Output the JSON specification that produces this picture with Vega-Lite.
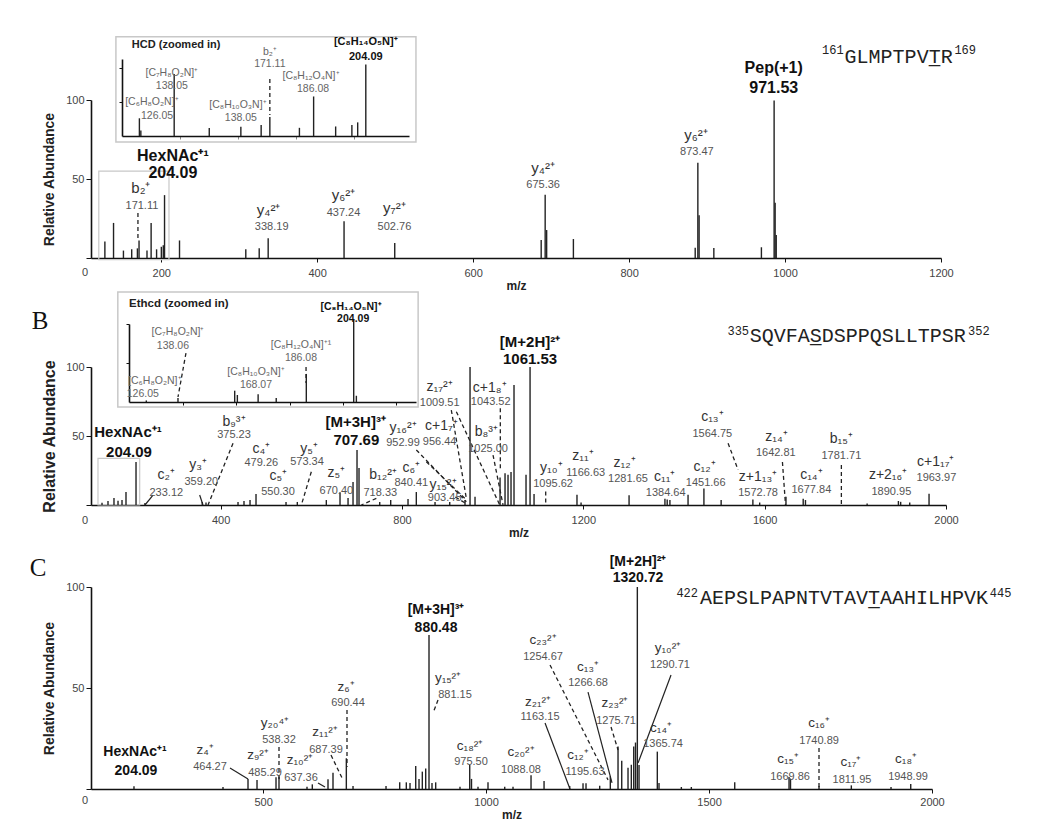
{
"$schema": "https://vega.github.io/schema/vega-lite/v6.json",
"background": "white",
"padding": {"left": 29, "top": 36, "right": 5, "bottom": 5},
"config": {
  "view": {"stroke": null},
  "font": "Liberation Sans",
  "axis": {"grid": false, "domainColor": "#111", "domainWidth": 1.6, "tickColor": "#111", "tickWidth": 1, "labelColor": "#444", "labelFont": "Liberation Sans", "labelFontSize": 11, "titleFont": "Liberation Sans", "titleColor": "#222", "titleFontWeight": "bold", "labelFlush": false, "format": "d"},
  "text": {"font": "Liberation Sans", "baseline": "middle"}
},
"datasets": {
  "aPeaks": [{"mz":127.8,"h":10.5},{"mz":138.9,"h":22.2},{"mz":151.6,"h":4.7},{"mz":162.2,"h":5.5},{"mz":169.5,"h":6.1},{"mz":171.6,"h":11.1},{"mz":181.8,"h":4.7},{"mz":187.1,"h":22.2},{"mz":194.1,"h":5.5},{"mz":200.2,"h":7.1},{"mz":202.7,"h":8.1},{"mz":204.3,"h":39.8},{"mz":223.5,"h":11.1},{"mz":308.5,"h":5.5},{"mz":325.7,"h":6.1},{"mz":337.2,"h":12.5},{"mz":434.5,"h":23.3},{"mz":499.5,"h":9.5},{"mz":687.3,"h":11.4},{"mz":692.4,"h":40},{"mz":694.3,"h":17.7},{"mz":728.6,"h":12},{"mz":884.8,"h":6.5},{"mz":888.2,"h":60.3},{"mz":889.8,"h":27},{"mz":908.7,"h":6.3},{"mz":969.7,"h":6.8},{"mz":986,"h":99.7},{"mz":987.3,"h":35},{"mz":988.7,"h":14.6}],
  "aText": [
    {"k":"ion","t":"b₂⁺","mz":174,"h":44.3},{"k":"ion","t":"y₄²⁺","mz":337.8,"h":30.4},{"k":"ion","t":"y₆²⁺","mz":433.8,"h":39.9},{"k":"ion","t":"y₇²⁺","mz":499.1,"h":31.6},{"k":"ion","t":"y₄²⁺","mz":689.8,"h":57},{"k":"ion","t":"y₆²⁺","mz":885.7,"h":77.8},
    {"k":"num","t":"171.11","mz":175.3,"h":32.9},{"k":"num","t":"338.19","mz":341.7,"h":19.6},{"k":"num","t":"437.24","mz":433.8,"h":28.5},{"k":"num","t":"502.76","mz":499.1,"h":19.6},{"k":"num","t":"675.36","mz":689.8,"h":46.2},{"k":"num","t":"873.47","mz":887,"h":67.1},
    {"k":"big","t":"HexNAc⁺¹","mz":215,"h":64.6},{"k":"big","t":"204.09","mz":215,"h":53.8},{"k":"big","t":"Pep(+1)","mz":985.5,"h":120.3},{"k":"big","t":"971.53","mz":985.5,"h":107.6},
    {"k":"supL","t":"161","mz":1075.1,"h":131.6},{"k":"seq","t":"GLMPTPVT̲R","mz":1076.4,"h":127.2},{"k":"supR","t":"169","mz":1217.2,"h":131.6},
    {"k":"zero","t":"0","mz":102.3,"h":-9.5}
  ],
  "aLines": [{"k":"dash","mz":170.2,"h":28.5,"mz2":170.2,"h2":11.4}],
  "aBox": [{"mz":120,"mz2":210,"h":-1,"h2":55}],
  "aiPeaks": [{"mz":126.0,"h":26},{"mz":126.5,"h":8},{"mz":138.0,"h":91},{"mz":150.1,"h":11.8},{"mz":161.0,"h":13.7},{"mz":168.0,"h":16},{"mz":171.0,"h":28},{"mz":181.2,"h":12},{"mz":186.1,"h":58},{"mz":193.7,"h":14},{"mz":199.3,"h":16},{"mz":201.3,"h":20},{"mz":204.1,"h":105}],
  "aiText": [
    {"k":"title","t":"HCD (zoomed in)","mz":123.4,"h":133.8},
    {"k":"ibig","t":"[C₈H₁₄O₅N]⁺","mz":204.1,"h":137.5},{"k":"ibig","t":"204.09","mz":204.1,"h":116.2},
    {"k":"ilab","t":"b₂⁺","mz":171,"h":123.5},{"k":"ilab","t":"171.11","mz":171,"h":105.9},
    {"k":"ilab","t":"[C₇H₈O₂N]⁺","mz":137.2,"h":92.6},{"k":"ilab","t":"138.05","mz":137.2,"h":73.5},
    {"k":"ilab","t":"[C₈H₁₂O₄N]⁺","mz":185.2,"h":88.2},{"k":"ilab","t":"186.08","mz":185.9,"h":69.1},
    {"k":"ilab","t":"[C₆H₈O₂N]⁺","mz":130.3,"h":50},{"k":"ilab","t":"126.05","mz":132.1,"h":29.4},
    {"k":"ilab","t":"[C₈H₁₀O₃N]⁺","mz":160,"h":45.6},{"k":"ilab","t":"138.05","mz":161,"h":26.5}
  ],
  "aiLines": [{"k":"dash","mz":171,"h":83.8,"mz2":171,"h2":30.9}],
  "aiBox": [{"mz":117.9,"mz2":221.4,"h":-8.8,"h2":145.6}],
  "bPeaks": [{"mz":138.3,"h":1.7},{"mz":151.5,"h":2.9},{"mz":164.7,"h":5},{"mz":173.6,"h":3},{"mz":182.4,"h":3.6},{"mz":191.2,"h":9.4},{"mz":213.3,"h":31.2},{"mz":233,"h":1.5},{"mz":359.5,"h":2.2},{"mz":367.7,"h":1.8},{"mz":438.3,"h":2.2},{"mz":451.5,"h":2.9},{"mz":464.8,"h":3.6},{"mz":478,"h":8},{"mz":544.2,"h":2.2},{"mz":569.1,"h":2.2},{"mz":633.1,"h":3.6},{"mz":663.3,"h":9.2},{"mz":681,"h":5},{"mz":692,"h":16.7},{"mz":700.8,"h":39.9},{"mz":705.2,"h":26.8},{"mz":750.9,"h":2.2},{"mz":775.1,"h":3.6},{"mz":813.3,"h":4.3},{"mz":831.6,"h":9.4},{"mz":872.9,"h":2.2},{"mz":905.3,"h":2.2},{"mz":939,"h":3.6},{"mz":950.1,"h":100},{"mz":961.1,"h":6},{"mz":1016.3,"h":20},{"mz":1027.3,"h":23},{"mz":1033.9,"h":22},{"mz":1040.5,"h":24},{"mz":1047.1,"h":87},{"mz":1073.6,"h":22},{"mz":1082.5,"h":100},{"mz":1091.3,"h":8},{"mz":1186,"h":7.4},{"mz":1195,"h":1.8},{"mz":1300.9,"h":7},{"mz":1380,"h":4.5},{"mz":1385,"h":4},{"mz":1391,"h":3.6},{"mz":1431,"h":7.4},{"mz":1466,"h":12},{"mz":1504,"h":3.6},{"mz":1574,"h":4},{"mz":1589,"h":1.8},{"mz":1647,"h":5.9},{"mz":1685,"h":4.5},{"mz":1690,"h":3.6},{"mz":1826,"h":1.1},{"mz":1895,"h":2.9},{"mz":1900,"h":2.3},{"mz":1920,"h":1.8},{"mz":1962.6,"h":8.1}],
  "bText": [
    {"k":"ion","t":"c₂⁺","mz":280.1,"h":21.7},{"k":"ion","t":"y₃⁺","mz":350,"h":29},{"k":"ion","t":"b₉³⁺","mz":429.5,"h":60.4},{"k":"ion","t":"c₄⁺","mz":489.7,"h":40.5},{"k":"ion","t":"c₅⁺","mz":527,"h":21},{"k":"ion","t":"y₅⁺","mz":595,"h":40.3},{"k":"ion","t":"z₅⁺","mz":655.2,"h":23},{"k":"ion","t":"b₁₂²⁺","mz":758.1,"h":21.7},{"k":"ion","t":"c₆⁺","mz":820.6,"h":26.6},{"k":"ion","t":"y₁₅²⁺","mz":890.5,"h":14.5},{"k":"ion","t":"y₁₆²⁺","mz":802.3,"h":56},{"k":"ion","t":"c+1₇⁺","mz":886.8,"h":57.2},{"k":"ion","t":"z₁₇²⁺","mz":883.1,"h":85.7},{"k":"ion","t":"c+1₈⁺","mz":993.4,"h":84.8},{"k":"ion","t":"b₈³⁺","mz":986,"h":53.1},{"k":"ion","t":"y₁₀⁺","mz":1129.5,"h":26.7},{"k":"ion","t":"z₁₁⁺","mz":1199.4,"h":35.7},{"k":"ion","t":"z₁₂⁺","mz":1291.1,"h":30.5},{"k":"ion","t":"c₁₁⁺","mz":1379.5,"h":20.6},{"k":"ion","t":"c₁₂⁺","mz":1467.7,"h":27.8},{"k":"ion","t":"c₁₃⁺","mz":1484.6,"h":63.9},{"k":"ion","t":"z+1₁₃⁺","mz":1585.4,"h":20.3},{"k":"ion","t":"z₁₄⁺","mz":1626,"h":49.2},{"k":"ion","t":"c₁₄⁺","mz":1703,"h":22.1},{"k":"ion","t":"b₁₅⁺","mz":1769.2,"h":48.1},{"k":"ion","t":"z+2₁₆⁺","mz":1872.2,"h":22.1},{"k":"ion","t":"c+1₁₇⁺","mz":1977.3,"h":31.2},
    {"k":"num","t":"233.12","mz":280.1,"h":8.5},{"k":"num","t":"359.20","mz":357.3,"h":16.9},{"k":"num","t":"375.23","mz":429.5,"h":50.7},{"k":"num","t":"479.26","mz":489.7,"h":30.5},{"k":"num","t":"550.30","mz":526.5,"h":9.5},{"k":"num","t":"573.34","mz":590.5,"h":30.9},{"k":"num","t":"670.40","mz":655.2,"h":10.1},{"k":"num","t":"718.33","mz":752.2,"h":8.5},{"k":"num","t":"840.41","mz":820.6,"h":15.7},{"k":"num","t":"903.45","mz":894.2,"h":5.3},{"k":"num","t":"952.99","mz":802.3,"h":45},{"k":"num","t":"956.44","mz":883.1,"h":46},{"k":"num","t":"1009.51","mz":883.1,"h":73.7},{"k":"num","t":"1043.52","mz":995.6,"h":74.4},{"k":"num","t":"1025.00","mz":989.8,"h":40.6},{"k":"num","t":"1095.62","mz":1133.2,"h":14.9},{"k":"num","t":"1166.63","mz":1205.2,"h":23.3},{"k":"num","t":"1281.65","mz":1298.5,"h":18.8},{"k":"num","t":"1384.64","mz":1381.7,"h":8.6},{"k":"num","t":"1451.66","mz":1469.9,"h":15.8},{"k":"num","t":"1564.75","mz":1484.6,"h":51.4},{"k":"num","t":"1572.78","mz":1585.4,"h":8.6},{"k":"num","t":"1642.81","mz":1624.5,"h":37.9},{"k":"num","t":"1677.84","mz":1703,"h":10.9},{"k":"num","t":"1781.71","mz":1769.2,"h":35.7},{"k":"num","t":"1890.95","mz":1879.5,"h":9.7},{"k":"num","t":"1963.97","mz":1978.8,"h":19.9},
    {"k":"big","t":"HexNAc⁺¹","mz":195.6,"h":53.1},{"k":"big","t":"204.09","mz":197.8,"h":38.6},{"k":"big","t":"[M+3H]³⁺","mz":697.9,"h":60.4},{"k":"big","t":"707.69","mz":699.3,"h":47.1},{"k":"big","t":"[M+2H]²⁺","mz":1082.5,"h":118},{"k":"big","t":"1061.53","mz":1082.5,"h":105.6},
    {"k":"supL","t":"335","mz":1565.6,"h":126},{"k":"seq","t":"SQVFAS̲DSPPQSLLTPSR","mz":1567.1,"h":122.6},{"k":"supR","t":"352","mz":2048.7,"h":126},
    {"k":"zero","t":"0","mz":100.8,"h":-11.6},{"k":"letter","t":"B","mz":1.5,"h":133.3}
  ],
  "bLines": [
    {"k":"solid","mz":250.8,"h":7.2,"mz2":233.1,"h2":0},{"k":"solid","mz":353.7,"h":7.2,"mz2":361,"h2":0},
    {"k":"dash","mz":427.3,"h":44.7,"mz2":372.1,"h2":0},{"k":"dash","mz":600,"h":24.1,"mz2":578,"h2":0},{"k":"dash","mz":743.4,"h":4.8,"mz2":710.3,"h2":0},{"k":"dash","mz":908.8,"h":68.8,"mz2":941.9,"h2":4.9},{"k":"dash","mz":919.9,"h":67.6,"mz2":1015.6,"h2":0},{"k":"dash","mz":831.6,"h":39.9,"mz2":941.9,"h2":2.4},{"k":"dash","mz":853.7,"h":31.4,"mz2":938.4,"h2":4.9},{"k":"dash","mz":917.6,"h":5.8,"mz2":939.6,"h2":1.4},{"k":"dash","mz":1016.9,"h":70.1,"mz2":1016.9,"h2":26.6},{"k":"dash","mz":1000.8,"h":36.2,"mz2":1022.9,"h2":0},{"k":"dash","mz":1117,"h":9.7,"mz2":1117,"h2":0},{"k":"dash","mz":1519.3,"h":44.7,"mz2":1541.4,"h2":25.5},{"k":"dash","mz":1639.2,"h":31.2,"mz2":1646,"h2":0},{"k":"dash","mz":1769.2,"h":28.9,"mz2":1769.2,"h2":0}
  ],
  "bBox": [{"mz":129.4,"mz2":221.4,"h":0,"h2":33.8}],
  "biPeaks": [{"mz":126.2,"h":2},{"mz":138.1,"h":5},{"mz":159.4,"h":14.5},{"mz":160.4,"h":9},{"mz":168.2,"h":10},{"mz":175,"h":5},{"mz":186.3,"h":36},{"mz":204.1,"h":105},{"mz":205.1,"h":8}],
  "biText": [
    {"k":"title","t":"Ethcd (zoomed in)","mz":119.7,"h":125.6},
    {"k":"ibig","t":"[C₈H₁₄O₅N]⁺","mz":203.1,"h":121.5},{"k":"ibig","t":"204.09","mz":203.9,"h":106.5},
    {"k":"ilab","t":"[C₇H₈O₂N]⁺","mz":138.1,"h":89.7},{"k":"ilab","t":"138.06","mz":136.2,"h":71.8},
    {"k":"ilab","t":"[C₈H₁₂O₄N]⁺¹","mz":184.3,"h":73.1},{"k":"ilab","t":"186.08","mz":184.3,"h":56.4},
    {"k":"ilab","t":"[C₈H₁₀O₃N]⁺","mz":167.4,"h":38.5},{"k":"ilab","t":"168.07","mz":167.4,"h":21.8},
    {"k":"ilab","t":"[C₆H₈O₂N]⁺","mz":129.4,"h":27.5},{"k":"ilab","t":"126.05","mz":124.9,"h":10.5}
  ],
  "biLines": [{"k":"dash","mz":141.1,"h":62.8,"mz2":138.1,"h2":6.4},{"k":"dash","mz":186.2,"h":44.9,"mz2":186.2,"h2":24.4}],
  "biBox": [{"mz":115.5,"mz2":228.3,"h":-6.4,"h2":141}],
  "cPeaks": [{"mz":210.4,"h":1.3},{"mz":410,"h":1},{"mz":466.1,"h":5},{"mz":486.3,"h":4.5},{"mz":528.9,"h":5.8},{"mz":535.6,"h":6.1},{"mz":598.4,"h":1.1},{"mz":610.3,"h":2.3},{"mz":645.5,"h":4.8},{"mz":656.7,"h":8.1},{"mz":686.6,"h":15.2},{"mz":701.6,"h":1.5},{"mz":775.6,"h":1.5},{"mz":806.3,"h":3.3},{"mz":821.1,"h":3.3},{"mz":829.4,"h":3},{"mz":842.2,"h":11.4},{"mz":849.6,"h":5},{"mz":857,"h":8.6},{"mz":864.6,"h":10.2},{"mz":872,"h":76.2},{"mz":878.7,"h":3},{"mz":887,"h":3.3},{"mz":941.5,"h":1.1},{"mz":963.3,"h":11.9},{"mz":967.3,"h":5},{"mz":981.9,"h":1.1},{"mz":1004.3,"h":3.3},{"mz":1041.8,"h":1.1},{"mz":1060.4,"h":1.1},{"mz":1100.8,"h":6.8},{"mz":1130,"h":4},{"mz":1187.5,"h":1.5},{"mz":1217.4,"h":2.8},{"mz":1224.1,"h":2.8},{"mz":1254.8,"h":1.6},{"mz":1278.6,"h":6.3},{"mz":1295.9,"h":21},{"mz":1304.2,"h":14},{"mz":1318.3,"h":10.5},{"mz":1325.7,"h":12},{"mz":1331.1,"h":21},{"mz":1335.1,"h":23},{"mz":1339.2,"h":100},{"mz":1343,"h":11.9},{"mz":1384,"h":18.5},{"mz":1387.8,"h":3},{"mz":1437.9,"h":1},{"mz":1460.3,"h":1},{"mz":1557.6,"h":3.4},{"mz":1679.4,"h":6},{"mz":1682.7,"h":5},{"mz":1746.6,"h":1.5},{"mz":1819.1,"h":1.8},{"mz":1908.1,"h":1},{"mz":1952.3,"h":2.5}],
  "cText": [
    {"k":"big","t":"HexNAc⁺¹","mz":212.7,"h":18.3},{"k":"big","t":"204.09","mz":214.9,"h":8.9},{"k":"big","t":"[M+3H]³⁺","mz":887.7,"h":88.6},{"k":"big","t":"880.48","mz":887.7,"h":79.7},{"k":"big","t":"[M+2H]²⁺","mz":1340.7,"h":112.4},{"k":"big","t":"1320.72","mz":1340.7,"h":104.5},
    {"k":"ion","t":"z₄⁺","mz":369.7,"h":19.3},{"k":"ion","t":"z₉²⁺","mz":488.5,"h":16.8},{"k":"ion","t":"y₂₀⁴⁺","mz":526.6,"h":32.7},{"k":"ion","t":"z₁₀²⁺","mz":582.7,"h":14.4},{"k":"ion","t":"z₁₁²⁺","mz":638.8,"h":28.2},{"k":"ion","t":"z₆⁺","mz":685.9,"h":50.5},{"k":"ion","t":"y₁₅²⁺","mz":914.6,"h":55},{"k":"ion","t":"c₁₈²⁺","mz":964,"h":21.3},{"k":"ion","t":"c₂₀²⁺","mz":1078.3,"h":18.3},{"k":"ion","t":"c₂₃²⁺","mz":1127.7,"h":73.8},{"k":"ion","t":"z₂₁²⁺","mz":1116.5,"h":43.1},{"k":"ion","t":"c₁₃⁺","mz":1228.6,"h":60.4},{"k":"ion","t":"z₂₃²⁺","mz":1289.1,"h":42.6},{"k":"ion","t":"c₁₂⁺","mz":1206.2,"h":16.8},{"k":"ion","t":"y₁₀²⁺","mz":1408,"h":69.8},{"k":"ion","t":"c₁₄⁺","mz":1392.3,"h":30.2},{"k":"ion","t":"c₁₆⁺","mz":1746.6,"h":32.7},{"k":"ion","t":"c₁₅⁺","mz":1677.1,"h":14.9},{"k":"ion","t":"c₁₇⁺","mz":1818.4,"h":13.4},{"k":"ion","t":"c₁₈⁺","mz":1941.8,"h":14.9},
    {"k":"num","t":"464.27","mz":380.9,"h":10.9},{"k":"num","t":"485.29","mz":504.2,"h":7.9},{"k":"num","t":"538.32","mz":535.6,"h":24.3},{"k":"num","t":"637.36","mz":585,"h":5.4},{"k":"num","t":"687.39","mz":641,"h":19.3},{"k":"num","t":"690.44","mz":690.4,"h":42.6},{"k":"num","t":"881.15","mz":930.3,"h":46.5},{"k":"num","t":"975.50","mz":966.2,"h":13.4},{"k":"num","t":"1088.08","mz":1078.3,"h":9.4},{"k":"num","t":"1254.67","mz":1127.7,"h":65.3},{"k":"num","t":"1163.15","mz":1121,"h":35.6},{"k":"num","t":"1266.68","mz":1228.6,"h":52.5},{"k":"num","t":"1275.71","mz":1291.4,"h":33.7},{"k":"num","t":"1195.63","mz":1221.9,"h":8.4},{"k":"num","t":"1290.71","mz":1412.4,"h":61.4},{"k":"num","t":"1365.74","mz":1396.8,"h":22.3},{"k":"num","t":"1740.89","mz":1746.6,"h":23.8},{"k":"num","t":"1669.86","mz":1681.6,"h":5.9},{"k":"num","t":"1811.95","mz":1820.6,"h":4.5},{"k":"num","t":"1948.99","mz":1946.2,"h":5.9},
    {"k":"supL","t":"422","mz":1475.3,"h":97.2},{"k":"seq","t":"AEPSLPAPNTVTAVT̲AAHILHPVK","mz":1479.8,"h":94.4},{"k":"supR","t":"445","mz":2129.5,"h":97.2},
    {"k":"zero","t":"0","mz":100.5,"h":-5.9},{"k":"letter","t":"C","mz":-4.9,"h":109.4}
  ],
  "cLines": [
    {"k":"solid","mz":425.7,"h":10.4,"mz2":466.1,"h2":5},{"k":"solid","mz":623.1,"h":3,"mz2":638.8,"h2":1},{"k":"solid","mz":1132.2,"h":32.7,"mz2":1188.2,"h2":0},{"k":"solid","mz":1228.6,"h":48,"mz2":1282.4,"h2":3},{"k":"solid","mz":1414.7,"h":56.4,"mz2":1340.7,"h2":12.9},
    {"k":"dash","mz":535.6,"h":20.8,"mz2":535.6,"h2":4.5},{"k":"dash","mz":652.2,"h":16.8,"mz2":679.1,"h2":4.5},{"k":"dash","mz":688.1,"h":39.1,"mz2":688.1,"h2":10.9},{"k":"dash","mz":892.2,"h":44.1,"mz2":881,"h2":37.6},{"k":"dash","mz":1143.4,"h":61.4,"mz2":1273.5,"h2":4.5},{"k":"dash","mz":1280.2,"h":30.7,"mz2":1295.9,"h2":19.3},{"k":"dash","mz":1746.6,"h":20.3,"mz2":1746.6,"h2":0}
  ]
},
"bounds": "flush",
"spacing": 109,
"vconcat": [
{
  "width": 850, "height": 158,
  "resolve": {"scale": {"x": "independent", "y": "independent"}},
  "layer": [
    {
      "encoding": {
        "x": {"field": "mz", "type": "quantitative", "scale": {"domain": [110, 1200], "nice": false, "zero": false}, "axis": {"values": [200,400,600,800,1000,1200], "title": "m/z", "titleFontSize": 12, "tickSize": 4, "labelPadding": 5, "titlePadding": 2}},
        "y": {"field": "h", "type": "quantitative", "scale": {"domain": [0, 100], "nice": false}, "axis": {"values": [0,50,100], "labelExpr": "datum.value == 0 ? '' : datum.label", "title": "Relative Abundance", "titleFontSize": 14, "tickSize": 5, "labelPadding": 2, "titlePadding": 9}}
      },
      "layer": [
        {"data": {"name": "aBox"}, "mark": {"type": "rect", "fill": "transparent", "stroke": "#c8c8c8", "strokeWidth": 1.2}, "encoding": {"x2": {"field": "mz2"}, "y2": {"field": "h2"}}},
        {"data": {"name": "aPeaks"}, "mark": {"type": "rule", "color": "#222", "strokeWidth": 1.4}, "encoding": {"y2": {"datum": 0}}},
        {"data": {"name": "aLines"}, "mark": {"type": "rule", "color": "#222", "strokeWidth": 1.3, "strokeDash": [4, 3]}, "encoding": {"x2": {"field": "mz2"}, "y2": {"field": "h2"}}},
        {"data": {"name": "aText"}, "transform": [{"filter": "datum.k == 'ion'"}], "mark": {"type": "text", "fontSize": 15, "color": "#333"}, "encoding": {"text": {"field": "t"}}},
        {"data": {"name": "aText"}, "transform": [{"filter": "datum.k == 'num'"}], "mark": {"type": "text", "fontSize": 11, "color": "#555"}, "encoding": {"text": {"field": "t"}}},
        {"data": {"name": "aText"}, "transform": [{"filter": "datum.k == 'big'"}], "mark": {"type": "text", "fontSize": 16, "fontWeight": "bold", "color": "#111"}, "encoding": {"text": {"field": "t"}}},
        {"data": {"name": "aText"}, "transform": [{"filter": "datum.k == 'seq'"}], "mark": {"type": "text", "font": "Liberation Mono", "fontSize": 20, "align": "left", "color": "#222"}, "encoding": {"text": {"field": "t"}}},
        {"data": {"name": "aText"}, "transform": [{"filter": "datum.k == 'supL'"}], "mark": {"type": "text", "font": "Liberation Mono", "fontSize": 12, "align": "right", "color": "#222"}, "encoding": {"text": {"field": "t"}}},
        {"data": {"name": "aText"}, "transform": [{"filter": "datum.k == 'supR'"}], "mark": {"type": "text", "font": "Liberation Mono", "fontSize": 12, "align": "left", "color": "#222"}, "encoding": {"text": {"field": "t"}}},
        {"data": {"name": "aText"}, "transform": [{"filter": "datum.k == 'zero'"}], "mark": {"type": "text", "fontSize": 11, "color": "#444"}, "encoding": {"text": {"field": "t"}}}
      ]
    },
    {
      "encoding": {
        "x": {"field": "mz", "type": "quantitative", "scale": {"domain": [120, 219], "range": [31, 318], "nice": false, "zero": false}, "axis": {"orient": "bottom", "offset": -122, "values": [140,160,180,200], "labels": false, "title": null, "tickSize": 3, "tickColor": "#888"}},
        "y": {"field": "h", "type": "quantitative", "scale": {"domain": [0, 113], "range": [36, -41], "nice": false}, "axis": {"orient": "left", "offset": -31, "values": [50,100], "labels": false, "title": null, "tickSize": 3}}
      },
      "layer": [
        {"data": {"name": "aiBox"}, "mark": {"type": "rect", "fill": "transparent", "stroke": "#c8c8c8", "strokeWidth": 1.5}, "encoding": {"x2": {"field": "mz2"}, "y2": {"field": "h2"}}},
        {"data": {"name": "aiPeaks"}, "mark": {"type": "rule", "color": "#222", "strokeWidth": 1.4}, "encoding": {"y2": {"datum": 0}}},
        {"data": {"name": "aiLines"}, "mark": {"type": "rule", "color": "#222", "strokeWidth": 1.3, "strokeDash": [4, 3]}, "encoding": {"x2": {"field": "mz2"}, "y2": {"field": "h2"}}},
        {"data": {"name": "aiText"}, "transform": [{"filter": "datum.k == 'title'"}], "mark": {"type": "text", "fontSize": 11, "fontWeight": "bold", "align": "left", "color": "#222"}, "encoding": {"text": {"field": "t"}}},
        {"data": {"name": "aiText"}, "transform": [{"filter": "datum.k == 'ibig'"}], "mark": {"type": "text", "fontSize": 11, "fontWeight": "bold", "color": "#111"}, "encoding": {"text": {"field": "t"}}},
        {"data": {"name": "aiText"}, "transform": [{"filter": "datum.k == 'ilab'"}], "mark": {"type": "text", "fontSize": 10.5, "color": "#666"}, "encoding": {"text": {"field": "t"}}}
      ]
    }
  ]
},
{
  "bounds": "flush",
  "spacing": 82,
  "vconcat": [
    {
      "width": 855, "height": 138,
      "resolve": {"scale": {"x": "independent", "y": "independent"}},
      "layer": [
        {
          "encoding": {
            "x": {"field": "mz", "type": "quantitative", "scale": {"domain": [114, 2000], "nice": false, "zero": false}, "axis": {"values": [400,800,1200,1600,2000], "title": "m/z", "titleFontSize": 12, "tickSize": 4, "labelPadding": 5, "titlePadding": 2}},
            "y": {"field": "h", "type": "quantitative", "scale": {"domain": [0, 100], "nice": false}, "axis": {"values": [0,50,100], "labelExpr": "datum.value == 0 ? '' : datum.label", "title": "Relative Abundance", "titleFontSize": 16, "tickSize": 5, "labelPadding": 2, "titlePadding": 8}}
          },
          "layer": [
            {"data": {"name": "bBox"}, "mark": {"type": "rect", "fill": "transparent", "stroke": "#c8c8c8", "strokeWidth": 1.2}, "encoding": {"x2": {"field": "mz2"}, "y2": {"field": "h2"}}},
            {"data": {"name": "bPeaks"}, "mark": {"type": "rule", "color": "#222", "strokeWidth": 1.4}, "encoding": {"y2": {"datum": 0}}},
            {"data": {"name": "bLines"}, "transform": [{"filter": "datum.k == 'dash'"}], "mark": {"type": "rule", "color": "#222", "strokeWidth": 1.3, "strokeDash": [4, 3]}, "encoding": {"x2": {"field": "mz2"}, "y2": {"field": "h2"}}},
            {"data": {"name": "bLines"}, "transform": [{"filter": "datum.k == 'solid'"}], "mark": {"type": "rule", "color": "#222", "strokeWidth": 1.2}, "encoding": {"x2": {"field": "mz2"}, "y2": {"field": "h2"}}},
            {"data": {"name": "bText"}, "transform": [{"filter": "datum.k == 'ion'"}], "mark": {"type": "text", "fontSize": 14, "color": "#333"}, "encoding": {"text": {"field": "t"}}},
            {"data": {"name": "bText"}, "transform": [{"filter": "datum.k == 'num'"}], "mark": {"type": "text", "fontSize": 11, "color": "#555"}, "encoding": {"text": {"field": "t"}}},
            {"data": {"name": "bText"}, "transform": [{"filter": "datum.k == 'big'"}], "mark": {"type": "text", "fontSize": 15, "fontWeight": "bold", "color": "#111"}, "encoding": {"text": {"field": "t"}}},
            {"data": {"name": "bText"}, "transform": [{"filter": "datum.k == 'seq'"}], "mark": {"type": "text", "font": "Liberation Mono", "fontSize": 20, "align": "left", "color": "#222"}, "encoding": {"text": {"field": "t"}}},
            {"data": {"name": "bText"}, "transform": [{"filter": "datum.k == 'supL'"}], "mark": {"type": "text", "font": "Liberation Mono", "fontSize": 12, "align": "right", "color": "#222"}, "encoding": {"text": {"field": "t"}}},
            {"data": {"name": "bText"}, "transform": [{"filter": "datum.k == 'supR'"}], "mark": {"type": "text", "font": "Liberation Mono", "fontSize": 12, "align": "left", "color": "#222"}, "encoding": {"text": {"field": "t"}}},
            {"data": {"name": "bText"}, "transform": [{"filter": "datum.k == 'zero'"}], "mark": {"type": "text", "fontSize": 11, "color": "#444"}, "encoding": {"text": {"field": "t"}}},
            {"data": {"name": "bText"}, "transform": [{"filter": "datum.k == 'letter'"}], "mark": {"type": "text", "font": "Liberation Serif", "fontSize": 25, "color": "#111"}, "encoding": {"text": {"field": "t"}}}
          ]
        },
        {
          "encoding": {
            "x": {"field": "mz", "type": "quantitative", "scale": {"domain": [119.7, 227.5], "range": [38, 325], "nice": false, "zero": false}, "axis": {"orient": "bottom", "offset": -103, "values": [140,160,180,200,220], "labels": false, "title": null, "tickSize": 3}},
            "y": {"field": "h", "type": "quantitative", "scale": {"domain": [0, 100], "range": [35, -43], "nice": false}, "axis": {"orient": "left", "offset": -38, "values": [50,100], "labels": false, "title": null, "tickSize": 3}}
          },
          "layer": [
            {"data": {"name": "biBox"}, "mark": {"type": "rect", "fill": "transparent", "stroke": "#c8c8c8", "strokeWidth": 1.5}, "encoding": {"x2": {"field": "mz2"}, "y2": {"field": "h2"}}},
            {"data": {"name": "biPeaks"}, "mark": {"type": "rule", "color": "#222", "strokeWidth": 1.4}, "encoding": {"y2": {"datum": 0}}},
            {"data": {"name": "biLines"}, "mark": {"type": "rule", "color": "#222", "strokeWidth": 1.3, "strokeDash": [4, 3]}, "encoding": {"x2": {"field": "mz2"}, "y2": {"field": "h2"}}},
            {"data": {"name": "biText"}, "transform": [{"filter": "datum.k == 'title'"}], "mark": {"type": "text", "fontSize": 11.5, "fontWeight": "bold", "align": "left", "color": "#222"}, "encoding": {"text": {"field": "t"}}},
            {"data": {"name": "biText"}, "transform": [{"filter": "datum.k == 'ibig'"}], "mark": {"type": "text", "fontSize": 10.5, "fontWeight": "bold", "color": "#111"}, "encoding": {"text": {"field": "t"}}},
            {"data": {"name": "biText"}, "transform": [{"filter": "datum.k == 'ilab'"}], "mark": {"type": "text", "fontSize": 10.5, "color": "#666"}, "encoding": {"text": {"field": "t"}}}
          ]
        }
      ]
    },
    {
      "width": 841, "height": 202,
      "encoding": {
        "x": {"field": "mz", "type": "quantitative", "scale": {"domain": [114, 2000], "nice": false, "zero": false}, "axis": {"values": [500,1000,1500,2000], "title": "m/z", "titleFontSize": 12, "tickSize": 4, "labelPadding": 3, "titlePadding": 2}},
        "y": {"field": "h", "type": "quantitative", "scale": {"domain": [0, 100], "nice": false}, "axis": {"values": [0,50,100], "labelExpr": "datum.value == 0 ? '' : datum.label", "title": "Relative Abundance", "titleFontSize": 14, "tickSize": 5, "labelPadding": 2, "titlePadding": 9}}
      },
      "layer": [
        {"data": {"name": "cPeaks"}, "mark": {"type": "rule", "color": "#222", "strokeWidth": 1.4}, "encoding": {"y2": {"datum": 0}}},
        {"data": {"name": "cLines"}, "transform": [{"filter": "datum.k == 'dash'"}], "mark": {"type": "rule", "color": "#222", "strokeWidth": 1.3, "strokeDash": [4, 3]}, "encoding": {"x2": {"field": "mz2"}, "y2": {"field": "h2"}}},
        {"data": {"name": "cLines"}, "transform": [{"filter": "datum.k == 'solid'"}], "mark": {"type": "rule", "color": "#222", "strokeWidth": 1.2}, "encoding": {"x2": {"field": "mz2"}, "y2": {"field": "h2"}}},
        {"data": {"name": "cText"}, "transform": [{"filter": "datum.k == 'ion'"}], "mark": {"type": "text", "fontSize": 13.5, "color": "#333"}, "encoding": {"text": {"field": "t"}}},
        {"data": {"name": "cText"}, "transform": [{"filter": "datum.k == 'num'"}], "mark": {"type": "text", "fontSize": 11, "color": "#555"}, "encoding": {"text": {"field": "t"}}},
        {"data": {"name": "cText"}, "transform": [{"filter": "datum.k == 'big'"}], "mark": {"type": "text", "fontSize": 14, "fontWeight": "bold", "color": "#111"}, "encoding": {"text": {"field": "t"}}},
        {"data": {"name": "cText"}, "transform": [{"filter": "datum.k == 'seq'"}], "mark": {"type": "text", "font": "Liberation Mono", "fontSize": 20, "align": "left", "color": "#222"}, "encoding": {"text": {"field": "t"}}},
        {"data": {"name": "cText"}, "transform": [{"filter": "datum.k == 'supL'"}], "mark": {"type": "text", "font": "Liberation Mono", "fontSize": 12, "align": "right", "color": "#222"}, "encoding": {"text": {"field": "t"}}},
        {"data": {"name": "cText"}, "transform": [{"filter": "datum.k == 'supR'"}], "mark": {"type": "text", "font": "Liberation Mono", "fontSize": 12, "align": "left", "color": "#222"}, "encoding": {"text": {"field": "t"}}},
        {"data": {"name": "cText"}, "transform": [{"filter": "datum.k == 'zero'"}], "mark": {"type": "text", "fontSize": 11, "color": "#444"}, "encoding": {"text": {"field": "t"}}},
        {"data": {"name": "cText"}, "transform": [{"filter": "datum.k == 'letter'"}], "mark": {"type": "text", "font": "Liberation Serif", "fontSize": 25, "color": "#111"}, "encoding": {"text": {"field": "t"}}}
      ]
    }
  ]
}
]
}
